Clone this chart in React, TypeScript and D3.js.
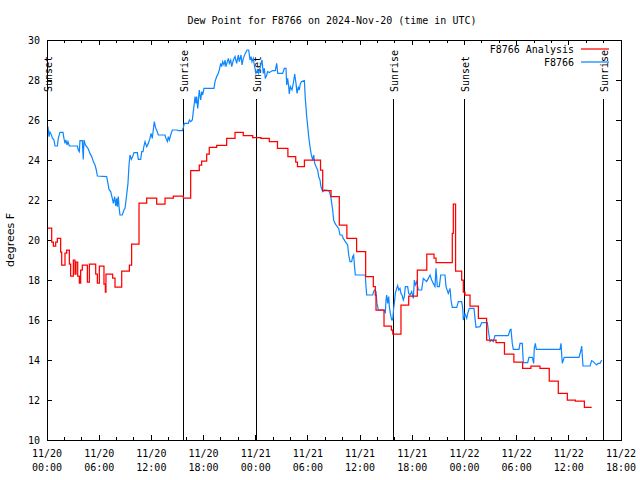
import React from "react";
import * as d3 from "d3";

const TITLE = "Dew Point for F8766 on 2024-Nov-20 (time in UTC)";
const Y_LABEL = "degrees F";
const START_MS = Date.UTC(2024, 10, 20, 0, 0);
const SPAN_HOURS = 66;
const Y_DOMAIN: [number, number] = [10, 30];
const Y_TICKS = [10, 12, 14, 16, 18, 20, 22, 24, 26, 28, 30];
const SERIES_NAMES = ["F8766 Analysis", "F8766"];
const SERIES_COLORS = ["#ff0000", "#0c86ff"];
const EVENT_LABELS = ["Sunset", "Sunrise", "Sunset", "Sunrise", "Sunset", "Sunrise"];
const EVENT_HOURS = [0, 15.68, 24.07, 39.83, 48.0, 63.92];

// [hours since 11/20 00:00 UTC, dew point F]
const analysis: [number, number][] = [
  [0, 20.6], [0.54, 19.9], [0.73, 19.7], [1.0, 19.9], [1.19, 20.08], [1.57, 19.4], [1.69, 18.75],
  [2.07, 19.35], [2.26, 19.5], [2.57, 18.8], [2.72, 18.2], [3.03, 19.0], [3.22, 18.3], [3.33, 18.9],
  [3.53, 18.2], [3.72, 17.85], [3.87, 18.5], [4.06, 18.75], [4.64, 17.9], [4.87, 18.8], [5.6, 18.3],
  [5.79, 17.85], [6.02, 18.7], [6.55, 17.8], [6.71, 17.4], [6.78, 18.3], [7.55, 18.1], [7.82, 17.65],
  [8.59, 18.45], [9.47, 18.75], [9.73, 19.8], [10.58, 21.85], [11.46, 22.1], [12.61, 21.8],
  [13.57, 22.1], [14.53, 22.2], [15.68, 22.1], [16.52, 23.47], [17.51, 23.75], [17.78, 23.95],
  [18.36, 24.3], [18.66, 24.63], [19.51, 24.73], [20.66, 25.08], [21.62, 25.38], [22.57, 25.22],
  [23.65, 25.12], [24.6, 25.08], [25.56, 24.92], [26.5, 24.58], [27.7, 24.17], [28.6, 23.9],
  [28.8, 23.67], [29.6, 24.0], [31.45, 23.5], [31.7, 22.47], [32.66, 22.17], [33.61, 20.75],
  [34.48, 20.08], [35.6, 19.42], [36.64, 18.17], [37.52, 17.67], [37.75, 17.25], [37.83, 16.5],
  [38.75, 15.7], [39.6, 15.5], [39.76, 15.3], [40.7, 16.75], [41.59, 17.2], [42.58, 18.5],
  [43.67, 19.3], [44.5, 19.1], [44.73, 18.87], [46.6, 20.33], [46.72, 21.8], [46.98, 18.45],
  [47.68, 18.0], [47.87, 17.4], [48.06, 17.25], [48.64, 16.7], [49.6, 16.08], [50.55, 15.0],
  [51.63, 14.87], [52.6, 14.3], [53.68, 13.9], [54.69, 13.58], [55.64, 13.7], [56.68, 13.58],
  [57.75, 12.95], [58.79, 12.33], [59.83, 12.0], [60.75, 11.95], [61.79, 11.63], [62.63, 11.63],
];

const station: [number, number][] = [
  [0.11, 25.67], [0.23, 25.17], [0.34, 25.4], [0.49, 25.27], [0.61, 25.1], [0.8, 25.0], [0.92, 24.7],
  [1.19, 24.7], [1.3, 25.08], [1.49, 25.38], [1.84, 25.38], [1.95, 25.08], [2.07, 24.83], [2.18, 25.0],
  [2.3, 24.75], [2.41, 24.92], [2.57, 24.7], [3.49, 24.7], [3.6, 24.5], [3.72, 24.42], [3.79, 24.97],
  [4.06, 24.97], [4.17, 24.03], [4.25, 25.0], [4.41, 24.75], [4.56, 24.67], [4.75, 24.55], [4.94, 24.33],
  [5.14, 24.17], [5.33, 23.92], [5.52, 23.75], [5.67, 23.5], [5.79, 23.2], [6.86, 23.17], [7.01, 22.83],
  [7.13, 22.53], [7.32, 22.42], [7.51, 22.08], [7.63, 21.83], [7.78, 22.17], [7.9, 21.7], [8.01, 22.08],
  [8.09, 21.67], [8.2, 22.17], [8.28, 21.67], [8.39, 21.25], [8.66, 21.25], [8.85, 21.5], [8.97, 21.58],
  [9.16, 22.25], [9.31, 22.83], [9.43, 23.75], [9.54, 24.25], [9.7, 24.03], [9.85, 24.17], [10.0, 24.37],
  [10.39, 24.37], [10.5, 24.03], [10.77, 24.03], [10.89, 24.42], [11.04, 24.42], [11.15, 24.7],
  [11.27, 24.92], [11.46, 24.67], [11.65, 24.83], [11.84, 25.08], [11.96, 25.33], [12.11, 25.08],
  [12.22, 25.5], [12.34, 25.92], [12.5, 25.58], [12.61, 25.5], [12.8, 25.25], [13.57, 25.25],
  [13.68, 25.08], [13.84, 24.92], [13.95, 25.17], [14.07, 25.0], [14.22, 25.25], [14.41, 25.5],
  [14.91, 25.5], [15.1, 25.47], [15.56, 25.47], [15.68, 25.63], [15.79, 25.83], [16.25, 25.83],
  [16.37, 26.0], [16.52, 25.92], [16.71, 26.0], [16.82, 26.42], [16.94, 26.83], [17.02, 27.17],
  [17.13, 26.83], [17.21, 27.17], [17.33, 26.58], [17.4, 26.92], [17.51, 27.5], [17.67, 27.0],
  [17.79, 27.42], [17.9, 27.25], [18.05, 27.58], [19.2, 27.58], [19.32, 27.92], [19.51, 28.17],
  [19.7, 28.33], [19.81, 28.5], [19.97, 28.83], [20.08, 28.67], [20.2, 28.92], [20.35, 28.75],
  [20.47, 29.0], [20.58, 28.67], [20.74, 28.92], [20.85, 29.08], [20.97, 28.83], [21.12, 29.0],
  [21.24, 28.67], [21.43, 29.0], [21.62, 29.17], [21.81, 28.83], [22.0, 29.25], [22.11, 28.92],
  [22.31, 29.25], [22.42, 28.75], [22.57, 29.08], [22.8, 29.33], [23.0, 29.5], [23.19, 29.5],
  [23.34, 29.0], [23.46, 29.17], [23.57, 28.92], [23.72, 29.08], [23.84, 28.75], [24.03, 28.33],
  [24.22, 28.5], [24.34, 28.33], [24.49, 28.58], [24.61, 28.83], [24.72, 29.0], [24.87, 28.33],
  [24.99, 28.58], [25.1, 28.08], [25.26, 28.25], [25.37, 28.42], [25.56, 28.37], [25.76, 28.42],
  [25.95, 28.47], [26.25, 28.47], [26.41, 28.83], [26.53, 28.33], [26.71, 28.33], [27.1, 28.33],
  [27.29, 28.58], [27.48, 28.58], [27.56, 27.75], [27.67, 28.08], [27.79, 27.67], [27.86, 27.3],
  [27.98, 27.67], [28.17, 27.5], [28.32, 27.83], [28.48, 28.3], [28.63, 27.83], [28.75, 27.33],
  [28.9, 27.67], [29.01, 27.5], [29.13, 27.83], [29.28, 27.92], [29.59, 27.97], [29.7, 27.08],
  [29.86, 26.17], [29.98, 25.67], [30.09, 25.17], [30.24, 24.67], [30.36, 24.33], [30.55, 24.0],
  [30.67, 24.25], [30.78, 23.83], [30.93, 23.67], [31.12, 23.5], [31.24, 23.17], [31.39, 23.0],
  [31.5, 22.67], [31.7, 22.42], [31.89, 22.5], [32.39, 22.47], [32.54, 22.33], [32.66, 22.08],
  [32.85, 21.5], [32.96, 21.0], [33.12, 20.83], [33.31, 20.7], [33.54, 20.58], [33.69, 20.25],
  [33.92, 20.25], [34.07, 20.08], [34.3, 19.92], [34.57, 19.75], [34.69, 19.25], [34.84, 18.92],
  [35.03, 18.92], [35.15, 19.17], [35.26, 19.25], [35.38, 18.58], [35.45, 18.25], [36.6, 18.25],
  [36.68, 17.67], [36.76, 17.25], [37.45, 17.25], [37.56, 17.42], [37.68, 17.5], [37.83, 17.42],
  [37.94, 16.83], [38.1, 16.5], [38.78, 16.5], [38.9, 16.33], [38.98, 17.0], [39.06, 17.25],
  [39.17, 16.83], [39.29, 17.17], [39.36, 16.67], [39.48, 16.33], [39.63, 16.0], [39.75, 16.0],
  [39.86, 16.58], [39.98, 17.0], [40.05, 17.33], [40.21, 17.58], [40.32, 17.72], [40.44, 17.5],
  [40.59, 17.58], [40.7, 17.33], [40.82, 17.25], [40.97, 17.0], [41.09, 17.17], [41.2, 17.67],
  [41.47, 17.67], [41.59, 17.33], [41.74, 17.25], [41.93, 17.42], [42.12, 17.08], [42.24, 18.0],
  [42.35, 17.75], [42.51, 17.92], [42.7, 17.5], [43.08, 17.5], [43.27, 18.08], [43.46, 18.0],
  [43.66, 17.92], [43.85, 18.08], [44.04, 18.25], [44.23, 18.0], [44.42, 17.83], [44.61, 17.67],
  [44.73, 18.58], [44.88, 17.67], [45.11, 17.67], [45.27, 18.25], [45.76, 18.25], [45.88, 17.67],
  [46.14, 17.33], [46.34, 17.58], [46.45, 17.0], [46.6, 16.63], [47.11, 16.63], [47.3, 16.92],
  [47.68, 16.92], [47.8, 16.58], [47.87, 16.0], [47.98, 16.17], [48.06, 16.3], [48.26, 16.08],
  [48.37, 16.33], [48.56, 16.58], [49.1, 16.58], [49.21, 16.08], [49.33, 15.63], [49.79, 15.67],
  [49.98, 15.87], [50.63, 15.87], [50.79, 15.33], [50.94, 14.92], [51.13, 15.0], [51.32, 14.92],
  [51.51, 15.22], [53.04, 15.22], [53.24, 15.5], [53.35, 15.53], [53.5, 14.83], [53.62, 14.53],
  [54.27, 14.53], [54.39, 14.83], [54.65, 14.83], [54.77, 13.87], [55.27, 13.87], [55.42, 14.13],
  [55.8, 14.13], [55.96, 13.83], [56.03, 14.58], [56.15, 14.83], [56.26, 14.53], [58.99, 14.53],
  [59.1, 14.83], [59.25, 13.83], [59.37, 14.0], [59.48, 14.13], [61.17, 14.13], [61.4, 14.5],
  [61.48, 14.7], [61.63, 13.7], [62.44, 13.7], [62.63, 13.97], [62.82, 13.92], [63.01, 13.83],
  [63.2, 13.75], [63.39, 13.83], [63.59, 13.83], [63.78, 14.0],
];

const W = 640;
const H = 480;
const L = 47;
const R = 621;
const T = 40;
const B = 440;
const MONO = "'DejaVu Sans Mono', monospace";
const SANS = "'DejaVu Sans', sans-serif";

const toDate = (h: number) => new Date(START_MS + h * 3600e3);

export default function App() {
  const x = d3.scaleUtc().domain([toDate(0), toDate(SPAN_HOURS)]).range([L, R]);
  const y = d3.scaleLinear().domain(Y_DOMAIN).range([B, T]);

  const stepLine = d3
    .line<[number, number]>()
    .x((d) => x(toDate(d[0])))
    .y((d) => y(d[1]))
    .curve(d3.curveStepAfter);
  const plainLine = d3
    .line<[number, number]>()
    .x((d) => x(toDate(d[0])))
    .y((d) => y(d[1]));

  const xTicks = d3.utcHour.every(2)!.range(toDate(0), toDate(SPAN_HOURS + 0.01));
  const fmtDay = d3.utcFormat("%m/%d");
  const fmtTime = d3.utcFormat("%H:%M");

  return (
    <div style={{ position: "absolute", left: 0, top: 0 }}>
      <svg width={W} height={H} style={{ display: "block", background: "#fff" }}>
        <rect x={0} y={0} width={W} height={H} fill="#fff" />
        <text x={332} y={24} textAnchor="middle" fontFamily={MONO} fontSize={10} fill="#000">
          {TITLE}
        </text>
        <text
          transform={`translate(14,240) rotate(-90)`}
          textAnchor="middle"
          fontFamily={SANS}
          fontSize={11}
          fill="#000"
        >
          {Y_LABEL}
        </text>

        {Y_TICKS.map((t) => (
          <g key={"y" + t}>
            <line x1={L} x2={L + 5} y1={y(t)} y2={y(t)} stroke="#000" shapeRendering="crispEdges" />
            <line x1={R - 5} x2={R} y1={y(t)} y2={y(t)} stroke="#000" shapeRendering="crispEdges" />
            <text x={40} y={y(t)} dy="0.35em" textAnchor="end" fontFamily={MONO} fontSize={10} fill="#000">
              {t}
            </text>
          </g>
        ))}

        {xTicks.map((d) => {
          const major = d.getUTCHours() % 6 === 0;
          const len = major ? 5 : 3;
          const px = x(d);
          return (
            <g key={"x" + d.getTime()}>
              <line x1={px} x2={px} y1={B} y2={B - len} stroke="#000" shapeRendering="crispEdges" />
              <line x1={px} x2={px} y1={T} y2={T + len} stroke="#000" shapeRendering="crispEdges" />
              {major && (
                <>
                  <text x={px} y={457} textAnchor="middle" fontFamily={MONO} fontSize={10} fill="#000">
                    {fmtDay(d)}
                  </text>
                  <text x={px} y={471} textAnchor="middle" fontFamily={MONO} fontSize={10} fill="#000">
                    {fmtTime(d)}
                  </text>
                </>
              )}
            </g>
          );
        })}

        {EVENT_HOURS.map((h, i) => {
          const px = Math.round(x(toDate(h))) + 0.5;
          return (
            <g key={"e" + i}>
              <line x1={px} x2={px} y1={99} y2={B} stroke="#000" strokeWidth={1} />
              <text
                transform={`translate(${px + 1},92) rotate(-90)`}
                dy="0.35em"
                textAnchor="start"
                fontFamily={MONO}
                fontSize={10}
                fill="#000"
              >
                {EVENT_LABELS[i]}
              </text>
            </g>
          );
        })}

        <path d={plainLine(station) || ""} fill="none" stroke={SERIES_COLORS[1]} strokeWidth={1.2} />
        <path d={stepLine(analysis) || ""} fill="none" stroke={SERIES_COLORS[0]} strokeWidth={1.25} />

        {SERIES_NAMES.map((name, i) => (
          <g key={name}>
            <text x={574} y={49 + i * 13} dy="0.35em" textAnchor="end" fontFamily={MONO} fontSize={10} fill="#000">
              {name}
            </text>
            <line x1={581} x2={609} y1={49 + i * 13} y2={49 + i * 13} stroke={SERIES_COLORS[i]} strokeWidth={1.25} />
          </g>
        ))}

        <rect x={L} y={T} width={R - L} height={B - T} fill="none" stroke="#000" shapeRendering="crispEdges" />
      </svg>
    </div>
  );
}
